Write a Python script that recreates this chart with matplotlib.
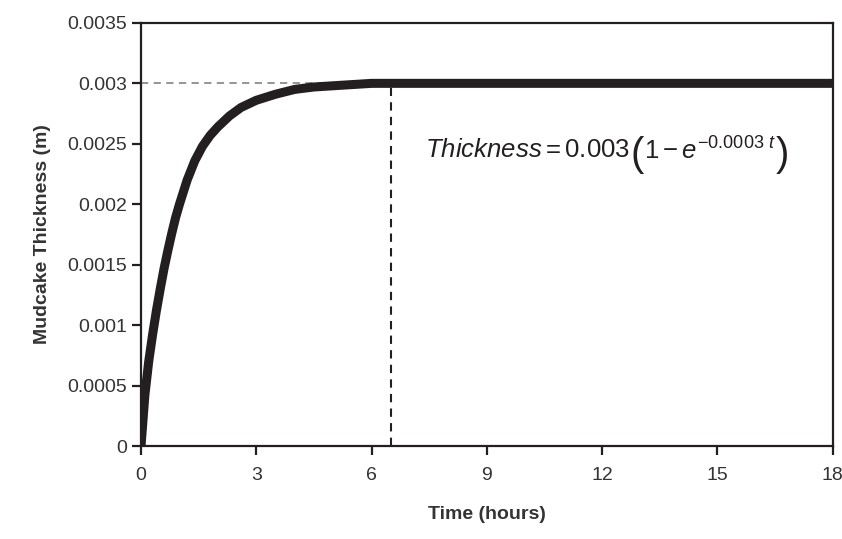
"""
泥壁厚さの時間変化グラフ
"""

import matplotlib
import matplotlib.pyplot as plt
from matplotlib.transforms import offset_copy

matplotlib.use("Agg")

# 図から読み取った値
time_hours = [0, 0.1, 0.2, 0.3, 0.4, 0.5, 0.6, 0.7, 0.8, 0.9, 1.0, 1.2, 1.4,
              1.6, 1.8, 2.0, 2.3, 2.6, 3.0, 3.5, 4.0, 4.5, 5.0, 5.5, 6.0,
              6.5, 9, 12, 15, 18]
thickness_m = [0, 0.00042, 0.0007, 0.00092, 0.00112, 0.0013, 0.00147,
               0.00162, 0.00176, 0.00189, 0.002, 0.0022, 0.00236, 0.00248,
               0.00257, 0.00264, 0.00273, 0.0028, 0.00286, 0.00291, 0.00295,
               0.00297, 0.00298, 0.00299, 0.003, 0.003, 0.003, 0.003, 0.003,
               0.003]
x_ticks = [0, 3, 6, 9, 12, 15, 18]
y_ticks = [0, 0.0005, 0.001, 0.0015, 0.002, 0.0025, 0.003, 0.0035]
y_tick_labels = ["0", "0.0005", "0.001", "0.0015", "0.002", "0.0025", "0.003", "0.0035"]
plateau = 0.003
marker_time = 6.5

plt.rcParams["font.family"] = ["Liberation Sans", "DejaVu Sans"]
plt.rcParams["mathtext.fontset"] = "custom"
plt.rcParams["mathtext.rm"] = "Liberation Sans"
plt.rcParams["mathtext.it"] = "Liberation Sans:italic"

fig = plt.figure(figsize=(8.42, 5.39), dpi=100)
ax = fig.add_axes([0.1675, 0.1725, 0.8215, 0.785])

# 補助線
ax.plot([0, 5], [plateau, plateau], color="#8c8c8c", linestyle=(0, (4, 3)), linewidth=1.3)
ax.plot([marker_time, marker_time], [0, plateau], color="#231f20",
        linestyle=(0, (4, 3)), linewidth=1.5)

# 曲線
ax.plot(time_hours, thickness_m, color="#231f20", linewidth=6.5,
        solid_capstyle="butt", solid_joinstyle="round")

ax.set_xlim(0, 18)
ax.set_ylim(0, 0.0035)
ax.set_xticks(x_ticks)
ax.set_yticks(y_ticks)
ax.set_yticklabels(y_tick_labels)

for side in ["left", "right", "top", "bottom"]:
    ax.spines[side].set_linewidth(1.6)
    ax.spines[side].set_color("#231f20")

ax.tick_params(direction="out", length=6.5, width=1.6, color="#231f20",
               labelsize=14, labelcolor="#333333")
ax.tick_params(axis="x", pad=8.5)
ax.tick_params(axis="y", pad=3.6)

ax.set_xlabel("Time (hours)", fontsize=14, fontweight="bold",
              color="#333333", labelpad=16)
ax.set_ylabel("Mudcake Thickness (m)", fontsize=14, fontweight="bold",
              color="#333333", labelpad=12)

# 式のテキスト（大きい括弧は別に描く）
renderer = fig.canvas.get_renderer()
pieces = [
    (r"$\mathit{Thickness} = 0.003$", 18.5, 0),
    ("(", 29, -9),
    (r"$1 - e^{-0.0003\ \mathit{t}}$", 18.5, -3),
    (")", 29, -9),
]
dx = 0
for s, size, dy in pieces:
    t = ax.text(7.4, 0.00239, s, fontsize=size, color="#231f20",
                va="baseline", ha="left",
                transform=offset_copy(ax.transData, fig=fig, x=dx, y=dy, units="dots"))
    dx += t.get_window_extent(renderer).width

plt.savefig("out.png", dpi=100)
plt.close()
